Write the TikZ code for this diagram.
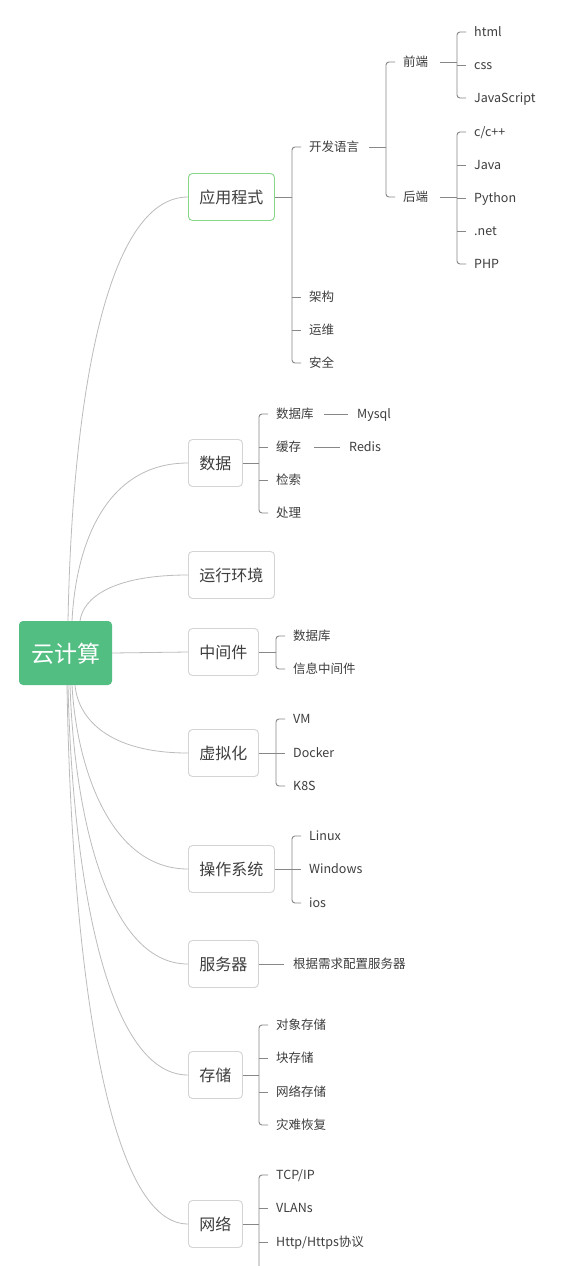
\documentclass[tikz,border=0pt]{standalone}
\usepackage{fontspec}
\setmainfont{Noto Sans CJK SC}
\definecolor{rootg}{RGB}{82,190,130}
\definecolor{linec}{RGB}{135,135,135}
\definecolor{curvec}{RGB}{188,188,188}
\definecolor{boxc}{RGB}{212,212,212}
\definecolor{selg}{RGB}{135,215,135}
\definecolor{txt}{RGB}{62,62,62}
\begin{document}
\begin{tikzpicture}[x=1pt,y=-1pt,
  kid/.style={anchor=west, inner sep=0pt, text height=10.5pt, text depth=1.5pt,
    font=\fontsize{12.5}{14}\selectfont, text=txt},
  box/.style={draw=boxc, line width=0.9pt, rounded corners=4pt, minimum height=47pt,
    inner xsep=11pt, inner ysep=0pt, anchor=west, text height=13pt, text depth=1pt,
    font=\fontsize{16}{18}\selectfont, text=txt, fill=white},
  rootbox/.style={fill=rootg, rounded corners=4pt, minimum width=93pt, minimum height=64pt,
    inner sep=0pt, text=white, text height=20pt, text depth=2pt, font=\fontsize{23}{26}\selectfont},
  br/.style={draw=linec, line width=0.9pt, rounded corners=3pt},
  cv/.style={draw=curvec, line width=0.8pt}]
\useasboundingbox (0,0) rectangle (560,1266);
\fill[white] (0,0) rectangle (560,1266);

% root
\node[rootbox] (root) at (65.5,653) {云计算};

% level-1 boxes
\node[box, draw=selg] (app) at (188,197) {应用程式};
\node[box] (data) at (188,463) {数据};
\node[box] (env) at (188,575) {运行环境};
\node[box] (mid) at (188,652) {中间件};
\node[box] (virt) at (188,753) {虚拟化};
\node[box] (os) at (188,869) {操作系统};
\node[box] (srv) at (188,964) {服务器};
\node[box] (sto) at (188,1075) {存储};
\node[box] (net) at (188,1224) {网络};

% start points on root edge
\coordinate (s1) at (68,621);
\coordinate (s2) at (72,621);
\coordinate (s3) at (80,621);
\coordinate (s4) at (75,685);
\coordinate (s5) at (72,685);
\coordinate (s6) at (70,685);
\coordinate (s7) at (68,685);
\coordinate (s8) at (67,685);

% curves from root
\draw[cv] (s1) .. controls (72,409) and (104,197) .. (app.west);
\draw[cv] (s2) .. controls (76,542) and (107,463) .. (data.west);
\draw[cv] (s3) .. controls (83,598) and (112,575) .. (env.west);
\draw[cv] (root.east) -- (mid.west);
\draw[cv] (s4) .. controls (78,719) and (109,753) .. (virt.west);
\draw[cv] (s5) .. controls (76,760) and (107,869) .. (os.west);
\draw[cv] (s6) .. controls (74,810) and (106,964) .. (srv.west);
\draw[cv] (s7) .. controls (72,865) and (104,1075) .. (sto.west);
\draw[cv] (s8) .. controls (71,940) and (103,1224) .. (net.west);

% ---- 应用程式 ----
\node[kid] (a1) at (309,147) {开发语言};
\node[kid] (a2) at (309,297) {架构};
\node[kid] (a3) at (309,330) {运维};
\node[kid] (a4) at (309,363) {安全};
\coordinate (bka) at ([xshift=-17pt]a1.west);
\draw[br] (app.east) -- (app.east -| bka);
\draw[br] ([xshift=-8pt]a1.west) -- ([xshift=-17pt]a1.west) -- ([xshift=-17pt]a4.west) -- ([xshift=-8pt]a4.west);
\foreach \k in {a2,a3} \draw[br] ([xshift=-8pt]\k.west) -- ([xshift=-17pt]\k.west);

\node[kid] (fe) at (403,62) {前端};
\node[kid] (be) at (403,197) {后端};
\coordinate (bkl) at ([xshift=-17pt]fe.west);
\draw[br] ([xshift=10pt]a1.east) -- (a1.east -| bkl);
\draw[br] ([xshift=-8pt]fe.west) -- ([xshift=-17pt]fe.west) -- ([xshift=-17pt]be.west) -- ([xshift=-8pt]be.west);

\node[kid] (f1) at (474,32) {html};
\node[kid] (f2) at (474,65) {css};
\node[kid] (f3) at (474,98) {JavaScript};
\coordinate (bkf) at ([xshift=-17pt]f1.west);
\draw[br] ([xshift=12pt]fe.east) -- (fe.east -| bkf);
\draw[br] ([xshift=-8pt]f1.west) -- ([xshift=-17pt]f1.west) -- ([xshift=-17pt]f3.west) -- ([xshift=-8pt]f3.west);
\draw[br] ([xshift=-8pt]f2.west) -- ([xshift=-17pt]f2.west);

\node[kid] (b1) at (474,132) {c/c++};
\node[kid] (b2) at (474,165) {Java};
\node[kid] (b3) at (474,198) {Python};
\node[kid] (b4) at (474,231) {.net};
\node[kid] (b5) at (474,264) {PHP};
\coordinate (bkb) at ([xshift=-17pt]b1.west);
\draw[br] ([xshift=12pt]be.east) -- (be.east -| bkb);
\draw[br] ([xshift=-8pt]b1.west) -- ([xshift=-17pt]b1.west) -- ([xshift=-17pt]b5.west) -- ([xshift=-8pt]b5.west);
\foreach \k in {b2,b3,b4} \draw[br] ([xshift=-8pt]\k.west) -- ([xshift=-17pt]\k.west);

% ---- 数据 ----
\node[kid] (d1) at (276,414) {数据库};
\node[kid] (d2) at (276,447) {缓存};
\node[kid] (d3) at (276,480) {检索};
\node[kid] (d4) at (276,513) {处理};
\coordinate (bkd) at ([xshift=-17pt]d1.west);
\draw[br] (data.east) -- (data.east -| bkd);
\draw[br] ([xshift=-8pt]d1.west) -- ([xshift=-17pt]d1.west) -- ([xshift=-17pt]d4.west) -- ([xshift=-8pt]d4.west);
\foreach \k in {d2,d3} \draw[br] ([xshift=-8pt]\k.west) -- ([xshift=-17pt]\k.west);
\node[kid] (my) at (357,414) {Mysql};
\node[kid] (re) at (349,447) {Redis};
\draw[br] ([xshift=10pt]d1.east) -- ([xshift=-9pt]my.west);
\draw[br] ([xshift=13pt]d2.east) -- ([xshift=-9pt]re.west);

% ---- 中间件 ----
\node[kid] (m1) at (293,636) {数据库};
\node[kid] (m2) at (293,669) {信息中间件};
\coordinate (bkm) at ([xshift=-17pt]m1.west);
\draw[br] (mid.east) -- (mid.east -| bkm);
\draw[br] ([xshift=-8pt]m1.west) -- ([xshift=-17pt]m1.west) -- ([xshift=-17pt]m2.west) -- ([xshift=-8pt]m2.west);

% ---- 虚拟化 ----
\node[kid] (v1) at (293,719) {VM};
\node[kid] (v2) at (293,753) {Docker};
\node[kid] (v3) at (293,786) {K8S};
\coordinate (bkv) at ([xshift=-17pt]v1.west);
\draw[br] (virt.east) -- (virt.east -| bkv);
\draw[br] ([xshift=-8pt]v1.west) -- ([xshift=-17pt]v1.west) -- ([xshift=-17pt]v3.west) -- ([xshift=-8pt]v3.west);
\draw[br] ([xshift=-8pt]v2.west) -- ([xshift=-17pt]v2.west);

% ---- 操作系统 ----
\node[kid] (o1) at (309,836) {Linux};
\node[kid] (o2) at (309,869) {Windows};
\node[kid] (o3) at (309,903) {ios};
\coordinate (bko) at ([xshift=-17pt]o1.west);
\draw[br] (os.east) -- (os.east -| bko);
\draw[br] ([xshift=-8pt]o1.west) -- ([xshift=-17pt]o1.west) -- ([xshift=-17pt]o3.west) -- ([xshift=-8pt]o3.west);
\draw[br] ([xshift=-8pt]o2.west) -- ([xshift=-17pt]o2.west);

% ---- 服务器 ----
\node[kid] (r1) at (293,964) {根据需求配置服务器};
\draw[br] (srv.east) -- ([xshift=-9pt]r1.west);

% ---- 存储 ----
\node[kid] (t1) at (276,1025) {对象存储};
\node[kid] (t2) at (276,1058) {块存储};
\node[kid] (t3) at (276,1092) {网络存储};
\node[kid] (t4) at (276,1125) {灾难恢复};
\coordinate (bkt) at ([xshift=-17pt]t1.west);
\draw[br] (sto.east) -- (sto.east -| bkt);
\draw[br] ([xshift=-8pt]t1.west) -- ([xshift=-17pt]t1.west) -- ([xshift=-17pt]t4.west) -- ([xshift=-8pt]t4.west);
\foreach \k in {t2,t3} \draw[br] ([xshift=-8pt]\k.west) -- ([xshift=-17pt]\k.west);

% ---- 网络 ----
\node[kid] (n1) at (276,1175) {TCP/IP};
\node[kid] (n2) at (276,1208) {VLANs};
\node[kid] (n3) at (276,1242) {Http/Https协议};
\coordinate (bkn) at ([xshift=-17pt]n1.west);
\coordinate (nend) at (bkn |- 0,1266);
\draw[br] (net.east) -- (net.east -| bkn);
\draw[br] ([xshift=-8pt]n1.west) -- ([xshift=-17pt]n1.west) -- (nend);
\foreach \k in {n2,n3} \draw[br] ([xshift=-8pt]\k.west) -- ([xshift=-17pt]\k.west);
\end{tikzpicture}
\end{document}
